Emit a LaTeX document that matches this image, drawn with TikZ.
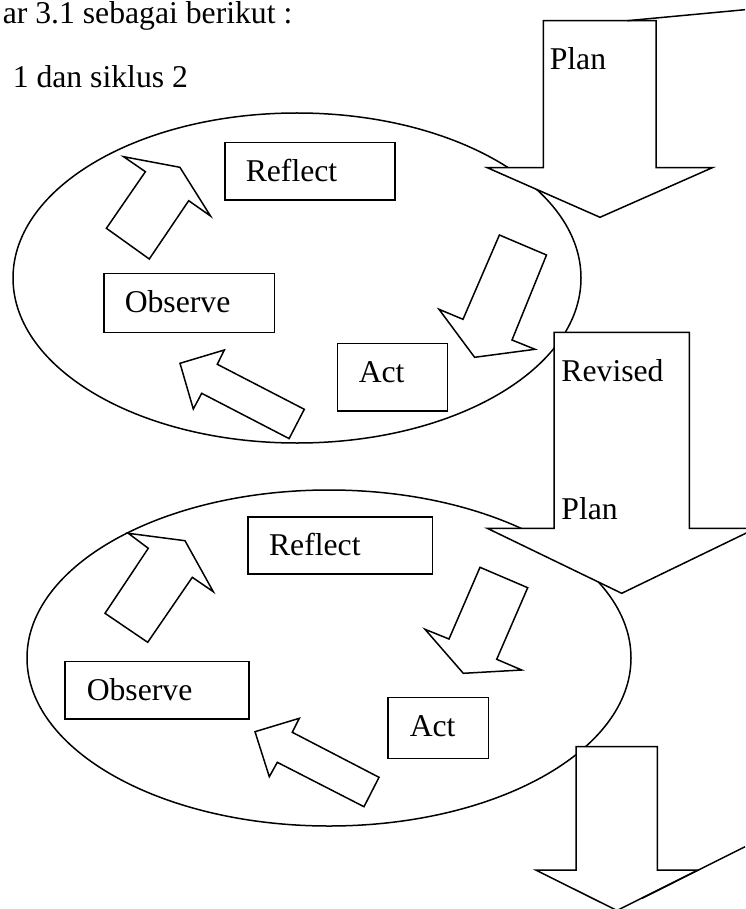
\documentclass[tikz,border=0pt]{standalone}
\usepackage{fontspec}
\setmainfont{Liberation Serif}
\usetikzlibrary{shapes.geometric}
\begin{document}
\begin{tikzpicture}[x=1pt,y=-1pt,line width=1.5pt,
  blockarrow/.style={draw=black,fill=white,line width=1.5pt},
  cycleell/.style={draw=black,ellipse,inner sep=0pt,line width=1.5pt},
  box/.style={draw=black,fill=white,rectangle,inner sep=0pt,anchor=north west,line width=1.5pt},
  lbl/.style={anchor=base west,inner sep=0pt,font=\fontsize{31.7pt}{38pt}\selectfont}]
\useasboundingbox (0,0) rectangle (745,909);

% heading text
\node[lbl] (t1) at (2,24) {ar 3.1 sebagai berikut :};
\node[lbl] (t2) at (12,88) {1 dan siklus 2};

% cycle ellipses
\node[cycleell,minimum width=568pt,minimum height=330pt] (c1) at (297,278) {};
\node[cycleell,minimum width=604pt,minimum height=336pt] (c2) at (329,658) {};

% Plan arrow (top)
\draw[blockarrow] (543.3,20.7) -- (656,20.7) -- (656,167.7) -- (712.3,167.7)
  -- (600,217.3) -- (487.3,167.7) -- (543.3,167.7) -- cycle;
\coordinate (s1a) at (627.3,20.7);
\coordinate (s1b) at (745,9.7);
\draw (s1a) -- (s1b);
\node[lbl] (plan1) at (549,70) {Plan};

% cycle 1 contents
\node[box,minimum width=170.2pt,minimum height=57.6pt] (ref1) at (224,141.7) {};
\node[lbl] (ref1t) at (245,181.5) {Reflect};
\node[box,minimum width=170.3pt,minimum height=59pt] (obs1) at (103.3,272.7) {};
\node[lbl] (obs1t) at (124,312.5) {Observe};
\node[box,minimum width=109.8pt,minimum height=67.3pt] (act1) at (336.8,342.7) {};
\node[lbl] (act1t) at (358,382.5) {Act};

\draw[blockarrow] (123.6,156.7) -- (179.9,167.3) -- (210.5,216) -- (188.7,200.7)
  -- (149.3,259) -- (106.4,228.3) -- (145.4,171.7) -- cycle;
\draw[blockarrow] (499.4,235) -- (546.5,255) -- (512,340) -- (535,349.3)
  -- (474.6,357.3) -- (439,309.3) -- (463,319.3) -- cycle;
\draw[blockarrow] (180,363.3) -- (224.3,350) -- (217.3,364.3) -- (304.3,409.3)
  -- (289.1,438.6) -- (201.7,393.3) -- (193.3,409) -- cycle;

% Revised Plan arrow
\draw[blockarrow] (554,332.3) -- (689.3,332.3) -- (689.3,528.3) -- (756,528.3)
  -- (621.7,593.3) -- (487.3,528.3) -- (554,528.3) -- cycle;
\node[lbl] (rev) at (560.7,381) {Revised};
\node[lbl] (plan2) at (560.7,519.3) {Plan};

% cycle 2 contents
\node[box,minimum width=184.4pt,minimum height=57pt] (ref2) at (247.3,516) {};
\node[lbl] (ref2t) at (268.3,555) {Reflect};
\node[box,minimum width=184.3pt,minimum height=57.6pt] (obs2) at (64,660.7) {};
\node[lbl] (obs2t) at (86,700) {Observe};
\node[box,minimum width=100.7pt,minimum height=61pt] (act2) at (387,696.7) {};
\node[lbl] (act2t) at (409,736.7) {Act};

\draw[blockarrow] (128.3,533.3) -- (185,540.7) -- (213.3,591.7) -- (192.3,577.3)
  -- (147.7,642.3) -- (105,613.3) -- (148.3,548.3) -- cycle;
\draw[blockarrow] (480,567.3) -- (527.7,587.7) -- (496.7,659.3) -- (521.7,670)
  -- (463.3,673.3) -- (425,629.3) -- (449,639) -- cycle;
\draw[blockarrow] (255,731.7) -- (299.3,718.3) -- (292.3,732.3) -- (379,777.3)
  -- (364,806.7) -- (277.3,762.3) -- (269.3,776.7) -- cycle;

% bottom arrow
\draw[blockarrow] (576,746.7) -- (657.3,746.7) -- (657.3,870) -- (698,870)
  -- (617,910.5) -- (535.7,870) -- (576,870) -- cycle;
\coordinate (s2a) at (745,846.7);
\coordinate (s2b) at (642,898.3);
\draw (s2a) -- (s2b);
\end{tikzpicture}
\end{document}
